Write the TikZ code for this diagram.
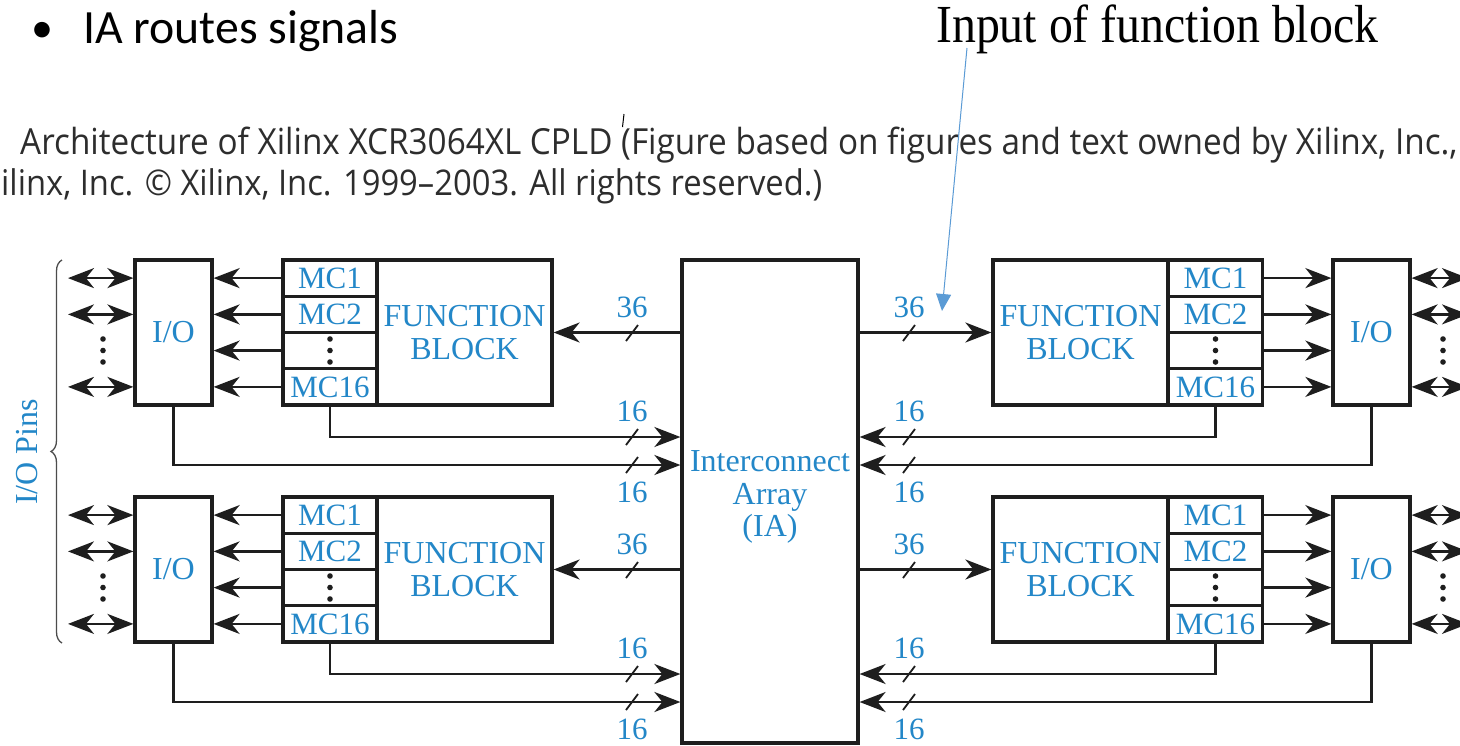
\documentclass[tikz,border=0pt]{standalone}
\usepackage{fontspec}
\setmainfont{Liberation Serif}
\newfontfamily\calfont{Carlito}
\newfontfamily\capfont{Open Sans}
\usetikzlibrary{arrows.meta,decorations.pathreplacing,calc}
\definecolor{tblue}{RGB}{35,135,200}
\definecolor{ablue}{RGB}{91,155,213}
\definecolor{capgray}{RGB}{45,45,45}
\definecolor{ink}{RGB}{30,30,30}
\tikzset{
  blk/.style={draw=ink, line width=3.2pt, rectangle, inner sep=0pt, text=tblue,
              font=\fontsize{32}{33}\selectfont, align=center},
  mcb/.style={blk, minimum width=94pt, minimum height=36.25pt, font=\fontsize{31}{31}\selectfont},
  wire/.style={draw=ink, line width=2.3pt},
  bigtip/.tip={Stealth[length=26pt 0, width=20pt 0, inset=8pt 0]},
  arr/.style={wire, -bigtip},
  biarr/.style={wire, bigtip-bigtip},
  lbl/.style={text=tblue, font=\fontsize{31}{31}\selectfont, inner sep=0pt},
  slashln/.style={draw=ink, line width=1.8pt},
  dotf/.style={fill=ink},
}
\begin{document}
\begin{tikzpicture}[x=1pt,y=-1pt]
\clip (0,0) rectangle (1460,745);
\fill[white] (0,0) rectangle (1460,745);

% ---------- header ----------
\node[anchor=base west, inner sep=0pt] (bullet) at (31,42) {\calfont\fontsize{44}{44}\selectfont •};
\node[anchor=base west, inner sep=0pt] (head) at (83,43) {\resizebox{315pt}{!}{\calfont IA routes signals}};
\node[anchor=base west, inner sep=0pt] (inlbl) at (936,42) {\scalebox{1}[1.12]{\resizebox{442pt}{!}{Input of function block}}};
\node[anchor=base west, inner sep=0pt, text=capgray] (cap1) at (20,154)
  {\scalebox{1}[1.08]{\resizebox{1437pt}{!}{\capfont Architecture of Xilinx XCR3064XL CPLD (Figure based on figures and text owned by Xilinx, Inc.,}}};
\node[anchor=base west, inner sep=0pt, text=capgray] (cap2) at (1,195)
  {\scalebox{1}[1.08]{\resizebox{821pt}{!}{\capfont ilinx, Inc. © Xilinx, Inc. 1999–2003. All rights reserved.)}}};
\coordinate (tickA) at (624,114);
\coordinate (tickB) at (622.5,127);
\draw[black, line width=1pt] (tickA) -- (tickB);

% ---------- interconnect array ----------
\node[blk, minimum width=176pt, minimum height=483pt] (ia) at (770,501.5) {};
\node[lbl, font=\fontsize{32}{32.5}\selectfont, align=center] (iat) at (770,497) {Interconnect\\Array\\(IA)};

% ---------- brace ----------
\coordinate (brB) at (62,643);
\coordinate (brT) at (62,260);
\draw[draw=black!70, line width=1.3pt, decorate, decoration={brace, amplitude=11pt}] (brB) -- (brT);
\node[lbl, font=\fontsize{32}{32}\selectfont, rotate=90] (pins) at (27,452) {I/O Pins};

% ---------- groups ----------
\foreach \k/\dy in {1/0,2/237} {
  \coordinate (yMC\k) at (0,437+\dy);
  \coordinate (yIO\k) at (0,465+\dy);
  % left
  \node[blk, minimum width=77pt, minimum height=145pt] (ioL\k) at (173.5,332.5+\dy) {I/O};
  \node[blk, minimum width=175pt, minimum height=145pt] (fbL\k) at (464.5,332.5+\dy) {FUNCTION\\BLOCK};
  \node[mcb] (mcL\k1) at (330,278.1+\dy) {MC1};
  \node[mcb] (mcL\k2) at (330,314.4+\dy) {MC2};
  \node[mcb] (mcL\k3) at (330,350.6+\dy) {};
  \node[mcb] (mcL\k4) at (330,386.9+\dy) {MC16};
  % right
  \node[blk, minimum width=77pt, minimum height=145pt] (ioR\k) at (1371.5,332.5+\dy) {I/O};
  \node[blk, minimum width=175pt, minimum height=145pt] (fbR\k) at (1080.5,332.5+\dy) {FUNCTION\\BLOCK};
  \node[mcb] (mcR\k1) at (1215.5,278.1+\dy) {MC1};
  \node[mcb] (mcR\k2) at (1215.5,314.4+\dy) {MC2};
  \node[mcb] (mcR\k3) at (1215.5,350.6+\dy) {};
  \node[mcb] (mcR\k4) at (1215.5,386.9+\dy) {MC16};
  % dots
  \foreach \xx in {103,330,1215.5,1443} {
    \foreach \yy in {339,350.5,362} {
      \fill[dotf] (\xx,\yy+\dy) circle (2.8pt);
    }
  }
  % MC -> I/O
  \foreach \j in {1,2,3,4} {
    \draw[arr] (mcL\k\j.west) -- (mcL\k\j.west -| ioL\k.east);
    \draw[arr] (mcR\k\j.east) -- (mcR\k\j.east -| ioR\k.west);
  }
  % pins
  \foreach \j in {1,2,4} {
    \coordinate (pL\k\j) at (68,0 |- mcL\k\j.west);
    \coordinate (pR\k\j) at (1468,0 |- mcR\k\j.east);
    \draw[biarr] (pL\k\j) -- (pL\k\j -| ioL\k.west);
    \draw[biarr] (pR\k\j) -- (pR\k\j -| ioR\k.east);
  }
  % buses
  \draw[arr] (ia.west |- fbL\k.east) -- (fbL\k.east);
  \draw[arr] (ia.east |- fbR\k.west) -- (fbR\k.west);
  \draw[arr] (mcL\k4.south) |- (ia.west |- yMC\k);
  \draw[arr] (ioL\k.south) |- (ia.west |- yIO\k);
  \draw[arr] (mcR\k4.south) |- (ia.east |- yMC\k);
  \draw[arr] (ioR\k.south) |- (ia.east |- yIO\k);
  % slashes and labels
  \foreach \sx in {632,909} {
    \foreach \sy in {333,437,465} {
      \draw[slashln] (\sx-6,\sy+8+\dy) -- (\sx+6,\sy-8+\dy);
    }
    \node[lbl] at (\sx,307+\dy) {36};
    \node[lbl] at (\sx,411+\dy) {16};
    \node[lbl] at (\sx,492+\dy) {16};
  }
}

% ---------- annotation arrow ----------
\coordinate (inStart) at (967,48);
\coordinate (inEnd) at (942,311);
\draw[ablue, line width=1pt, -{Triangle[length=17pt 0, width=15pt 0]}] (inStart) -- (inEnd);
\end{tikzpicture}
\end{document}
